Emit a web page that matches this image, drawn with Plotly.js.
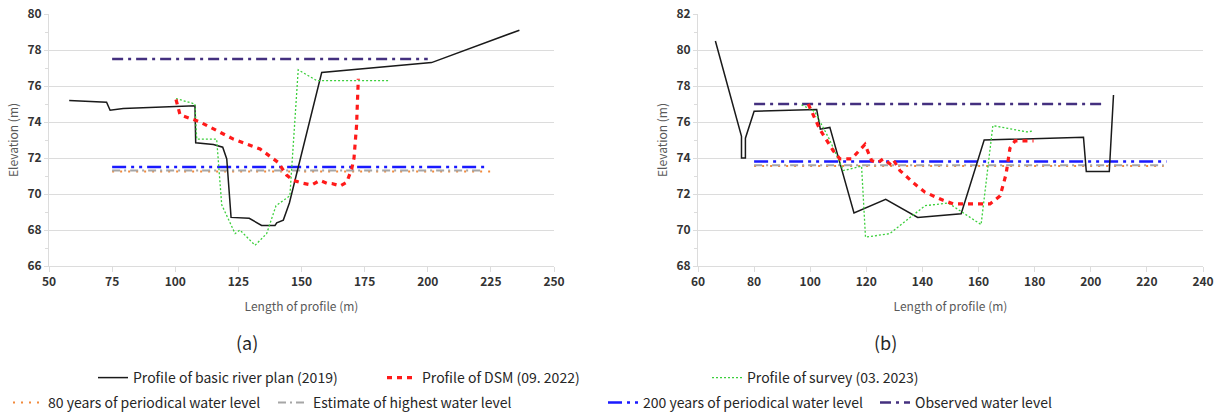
<!DOCTYPE html>
<html>
<head>
<meta charset="utf-8">
<script src="https://cdn.plot.ly/plotly-3.0.1.min.js"></script>
<style>
  html, body { margin: 0; padding: 0; background: #ffffff; }
  #chart { width: 1219px; height: 414px; }
</style>
</head>
<body>
<div id="chart"></div>
<script>
// ---------- Data: panel (a) ----------
const aBasicX = [58.0, 72.8, 74.2, 79.4, 107.8, 108.1, 115.1, 118.8, 120.4, 122.1, 129.3, 134.2, 139.5, 140.2, 142.8, 145.2, 158.0, 201.5, 236.3];
const aBasicY = [75.2, 75.1, 74.65, 74.75, 74.9, 72.85, 72.75, 72.6, 71.95, 68.7, 68.65, 68.25, 68.25, 68.4, 68.55, 69.5, 76.75, 77.3, 79.1];

const aDsmX = [100.3, 101.9, 109.8, 123.0, 133.6, 140.8, 144.1, 146.8, 150.5, 154.0, 157.3, 160.0, 162.0, 165.3, 167.9, 169.9, 170.8, 171.8, 172.5];
const aDsmY = [75.25, 74.4, 74.0, 73.05, 72.5, 71.75, 71.05, 70.75, 70.6, 70.5, 70.75, 70.6, 70.58, 70.45, 70.65, 71.4, 72.0, 73.8, 76.4];

const aSurveyX = [100.3, 107.8, 108.5, 116.4, 118.4, 123.7, 125.6, 131.6, 136.2, 139.9, 145.4, 148.7, 156.0, 184.4];
const aSurveyY = [75.3, 75.0, 73.05, 73.05, 69.4, 67.8, 68.0, 67.15, 67.8, 69.35, 69.9, 76.9, 76.3, 76.3];

const a80X = [75, 225];        const a80Y = [71.25, 71.25];
const aEstX = [75, 222];       const aEstY = [71.3, 71.3];
const a200X = [75, 223];       const a200Y = [71.5, 71.5];
const aObsX = [75, 200];       const aObsY = [77.5, 77.5];

// ---------- Data: panel (b) ----------
const bBasicX = [66.2, 75.5, 75.5, 76.9, 76.9, 80.0, 102.3, 103.6, 107.0, 115.6, 126.9, 138.3, 153.8, 162.0, 197.4, 198.4, 206.6, 208.1];
const bBasicY = [80.5, 75.2, 74.0, 74.0, 75.1, 76.6, 76.7, 75.6, 75.7, 70.95, 71.7, 70.7, 70.9, 75.0, 75.15, 73.25, 73.25, 77.5];

const bDsmX = [99.3, 103.4, 108.2, 110.6, 114.7, 119.5, 121.9, 124.2, 126.0, 128.4, 129.6, 132.0, 137.3, 140.9, 147.4, 151.0, 164.1, 167.7, 169.8, 171.2, 173.0, 179.6];
const bDsmY = [77.0, 75.6, 74.4, 73.95, 73.95, 74.75, 73.85, 73.75, 73.95, 73.68, 73.9, 73.3, 72.55, 72.1, 71.65, 71.45, 71.45, 71.9, 73.1, 74.55, 74.95, 74.95];

const bSurveyX = [96.9, 101.5, 106.8, 111.8, 118.3, 119.7, 128.4, 140.9, 149.2, 160.9, 165.1, 177.2, 179.6];
const bSurveyY = [76.95, 76.6, 75.05, 73.3, 73.55, 69.6, 69.8, 71.35, 71.5, 70.3, 75.8, 75.45, 75.5];

const b80X = [80, 226];        const b80Y = [73.55, 73.55];
const bEstX = [80, 226];       const bEstY = [73.6, 73.6];
const b200X = [80, 227];       const b200Y = [73.8, 73.8];
const bObsX = [80, 205];       const bObsY = [77.0, 77.0];

// ---------- Series names ----------
const names = [
  'Profile of basic river plan (2019)',
  'Profile of DSM (09. 2022)',
  'Profile of survey (03. 2023)',
  '80 years of periodical water level',
  'Estimate of highest water level',
  '200 years of periodical water level',
  'Observed water level'
];

// ---------- Styles ----------
const styles = [
  {color: '#1a1a1a', width: 1.5, dash: 'solid'},
  {color: '#ff1a1a', width: 3.2, dash: '5px,5px'},
  {color: '#3ccf3c', width: 1.3, dash: '2px,2px'},
  {color: '#f28a3c', width: 2, dash: '2px,6px'},
  {color: '#a6a6a6', width: 2, dash: '8px,4px,2px,4px'},
  {color: '#1a1aff', width: 2.5, dash: '14px,5px,3px,5px,3px,5px'},
  {color: '#44307f', width: 2.5, dash: '11px,5px,3px,5px'}
];
const legendKey = ['legend', 'legend', 'legend', 'legend2', 'legend2', 'legend2', 'legend2'];
const legendW = [244, 280, 220, 220, 285, 227, 150];

const aSeries = [[aBasicX, aBasicY], [aDsmX, aDsmY], [aSurveyX, aSurveyY], [a80X, a80Y], [aEstX, aEstY], [a200X, a200Y], [aObsX, aObsY]];
const bSeries = [[bBasicX, bBasicY], [bDsmX, bDsmY], [bSurveyX, bSurveyY], [b80X, b80Y], [bEstX, bEstY], [b200X, b200Y], [bObsX, bObsY]];

const drawOrder = [3, 4, 5, 6, 0, 2, 1];
const traces = [];
drawOrder.forEach(i => {
  traces.push({
    x: aSeries[i][0], y: aSeries[i][1], xaxis: 'x', yaxis: 'y',
    type: 'scatter', mode: 'lines', name: names[i],
    line: styles[i], legend: legendKey[i], legendwidth: legendW[i],
    legendrank: i + 1, showlegend: true, hoverinfo: 'skip'
  });
  traces.push({
    x: bSeries[i][0], y: bSeries[i][1], xaxis: 'x2', yaxis: 'y2',
    type: 'scatter', mode: 'lines', name: names[i],
    line: styles[i], legend: legendKey[i], showlegend: false, hoverinfo: 'skip'
  });
});

const FONT = 'Noto Sans CJK KR, Noto Sans, sans-serif';
const W = 1219, H = 414;
const gridC = '#dcdcdc';

function xAxis(dom, range, dtick, anchor) {
  return {
    domain: dom, range: range, dtick: dtick, anchor: anchor,
    showgrid: false, zeroline: false, showline: true, linecolor: gridC, linewidth: 1,
    ticks: 'outside', ticklen: 5, tickcolor: gridC, tickwidth: 1,
    tickfont: {family: FONT, size: 12, color: '#333333', weight: 700},
    title: {text: 'Length of profile (m)', font: {family: FONT, size: 12, color: '#595959'}, standoff: 14}
  };
}
function yAxis(range, anchor) {
  return {
    domain: [1 - 266 / H, 1 - 14 / H], range: range, dtick: 2, anchor: anchor,
    showgrid: true, gridcolor: gridC, gridwidth: 1, zeroline: false,
    showline: true, linecolor: gridC, linewidth: 1,
    ticks: 'outside', ticklen: 4, tickcolor: gridC, tickwidth: 1,
    minor: {dtick: 1, ticks: 'outside', ticklen: 3, tickcolor: gridC, showgrid: false},
    tickfont: {family: FONT, size: 12, color: '#333333', weight: 700},
    title: {text: 'Elevation (m)', font: {family: FONT, size: 12, color: '#595959'}, standoff: 6}
  };
}

const layout = {
  width: W, height: H,
  margin: {l: 0, r: 0, t: 0, b: 0, autoexpand: false},
  paper_bgcolor: '#ffffff', plot_bgcolor: '#ffffff',
  font: {family: FONT, color: '#333333'},
  xaxis: xAxis([49 / W, 554 / W], [50, 250], 25, 'y'),
  yaxis: yAxis([66, 80], 'x'),
  xaxis2: xAxis([698 / W, 1203 / W], [60, 240], 20, 'y2'),
  yaxis2: yAxis([68, 82], 'x2'),
  legend: {
    orientation: 'h', x: 93 / W, xanchor: 'left', y: 1 - 378 / H, yanchor: 'middle',
    font: {family: FONT, size: 14, color: '#262626'}, bgcolor: 'rgba(0,0,0,0)', traceorder: 'normal'
  },
  legend2: {
    orientation: 'h', x: 8 / W, xanchor: 'left', y: 1 - 403 / H, yanchor: 'middle',
    font: {family: FONT, size: 14, color: '#262626'}, bgcolor: 'rgba(0,0,0,0)', traceorder: 'normal'
  },
  annotations: [
    {text: '(a)', x: 247 / W, y: 1 - 342 / H, xref: 'paper', yref: 'paper', showarrow: false,
     font: {family: FONT, size: 18, color: '#262626'}, xanchor: 'center', yanchor: 'middle'},
    {text: '(b)', x: 885 / W, y: 1 - 342 / H, xref: 'paper', yref: 'paper', showarrow: false,
     font: {family: FONT, size: 18, color: '#262626'}, xanchor: 'center', yanchor: 'middle'}
  ],
  showlegend: true
};

Plotly.newPlot('chart', traces, layout, {displayModeBar: false, staticPlot: true});
</script>
</body>
</html>
